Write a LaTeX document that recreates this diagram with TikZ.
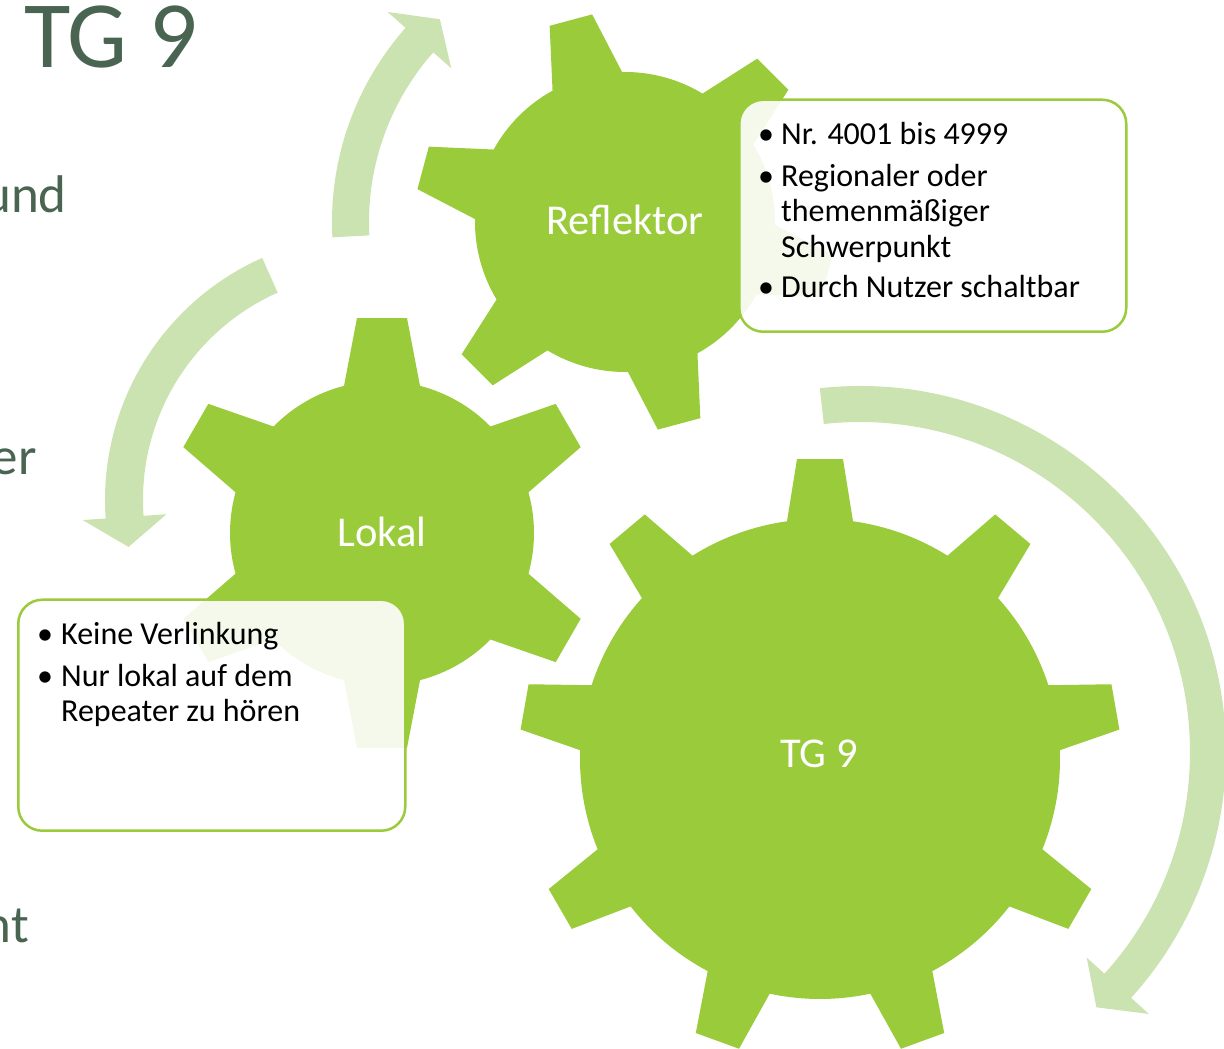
\documentclass[tikz,border=0pt]{standalone}
\usepackage{fontspec}
\setmainfont{Carlito}
\definecolor{gearGreen}{HTML}{9ACB3A}
\definecolor{arrowGreen}{HTML}{CBE3B0}
\definecolor{titleGreen}{HTML}{4A6452}

% Gear: centre x, centre y, teeth, phase, body radius, tip radius, tip half width, base half width
\newcommand{\drawgear}[8]{%
  \pgfmathsetmacro\gstep{360/#3}%
  \pgfmathsetmacro\gbb{asin(#8/#5)}%
  \pgfmathsetmacro\gbt{atan(#7/#6)}%
  \pgfmathsetmacro\grt{veclen(#6,#7)}%
  \pgfmathsetmacro\gdelta{\gstep-2*\gbb}%
  \pgfmathtruncatemacro\glast{#3-1}%
  \fill[gearfill, shift={(#1,#2)}] ({#4-\gbb}:#5)
    \foreach \k [evaluate=\k as \t using #4+\gstep*\k] in {0,...,\glast}{
      -- ({\t-\gbt}:\grt) -- ({\t+\gbt}:\grt) -- ({\t+\gbb}:#5)
      arc[start angle={\t+\gbb}, delta angle=\gdelta, radius=#5]
    } -- cycle;
}

% Ring arrow: centre x, centre y, inner r, outer r, start angle, head angle, tip angle, barb half width
\newcommand{\ringarrow}[8]{%
  \pgfmathsetmacro\amid{(#3+#4)/2}%
  \pgfmathsetmacro\aouter{\amid+#8}%
  \pgfmathsetmacro\ainner{\amid-#8}%
  \fill[arrowfill, shift={(#1,#2)}] (#5:#4)
    arc[start angle=#5, end angle=#6, radius=#4]
    -- (#6:\aouter) -- (#7:\amid) -- (#6:\ainner) -- (#6:#3)
    arc[start angle=#6, end angle=#5, radius=#3] -- cycle;
}

\begin{document}
\begin{tikzpicture}[x=1pt, y=1pt,
  gearfill/.style={fill=gearGreen},
  arrowfill/.style={fill=arrowGreen},
  infobox/.style={draw=gearGreen, line width=2.5pt, rounded corners=24pt,
    fill=white, fill opacity=0.9, inner sep=0pt, anchor=south west},
  gearlabel/.style={text=white, anchor=base, inner sep=0pt,
    font=\fontsize{42.5}{51}\selectfont},
  boxtext/.style={anchor=base west, inner sep=0pt,
    font=\fontsize{32}{38}\selectfont},
  bodytext/.style={anchor=base east, inner sep=0pt, text=titleGreen,
    font=\fontsize{53}{64}\selectfont}
]
\useasboundingbox (0,0) rectangle (1224,1049);
\clip (0,0) rectangle (1224,1049);

% slide title and cut-off body text
\node[anchor=base west, inner sep=0pt, text=titleGreen,
  font=\fontsize{95}{114}\selectfont] (title) at (24,981) {TG 9};
\node[bodytext] (bodyA) at (67,836) {und};
\node[bodytext] (bodyB) at (37,574) {er};
\node[bodytext] (bodyC) at (29,106) {nt};

% circular arrows
\ringarrow{625}{827}{256}{293}{183}{138.5}{132.4}{42.5}
\ringarrow{370}{549}{227}{265}{114}{184}{191}{42}
\ringarrow{860}{297}{330}{366}{96.3}{-42.2}{-47.2}{42}

% gears
\drawgear{625}{827}{6}{105}{150}{209}{22}{36}
\drawgear{382}{516}{6}{90}{152}{215}{25}{38}
\drawgear{820}{290}{9}{90}{240}{300}{23}{33}

\node[gearlabel] (reflektor) at (625,814) {Reflektor};
\node[gearlabel] (lokal) at (382,502) {Lokal};
\node[gearlabel] (tgneun) at (819,281) {TG 9};

% info boxes
\node[infobox, minimum width=387pt, minimum height=232pt] (refbox) at (738,716) {};
\node[infobox, minimum width=387pt, minimum height=231pt] (lokbox) at (17,217) {};

\node[boxtext] (r1b) at (758,904) {•};
\node[boxtext] (r1) at (781,904) {Nr. 4001 bis 4999};
\node[boxtext] (r2b) at (758,862) {•};
\node[boxtext] (r2) at (781,862) {Regionaler oder};
\node[boxtext] (r3) at (781,827) {themenmäßiger};
\node[boxtext] (r4) at (781,791) {Schwerpunkt};
\node[boxtext] (r5b) at (758,751) {•};
\node[boxtext] (r5) at (781,751) {Durch Nutzer schaltbar};

\node[boxtext] (l1b) at (37,404) {•};
\node[boxtext] (l1) at (61,404) {Keine Verlinkung};
\node[boxtext] (l2b) at (37,362) {•};
\node[boxtext] (l2) at (61,362) {Nur lokal auf dem};
\node[boxtext] (l3) at (61,327) {Repeater zu hören};
\end{tikzpicture}
\end{document}
